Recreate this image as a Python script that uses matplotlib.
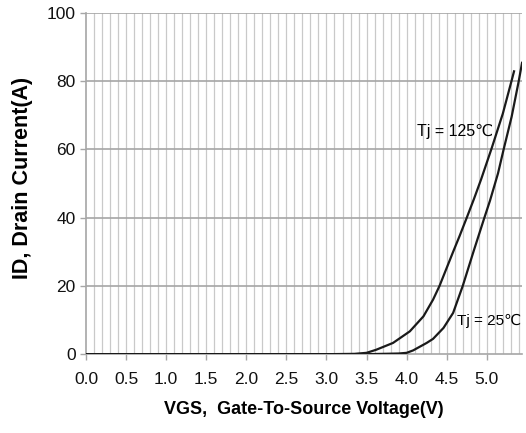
import matplotlib
matplotlib.use("Agg")
import matplotlib.pyplot as plt
import numpy as np

plt.rcParams['font.family'] = ['Liberation Sans', 'DejaVu Sans']

# transfer characteristics
vgs_125 = [0.0, 3.0, 3.35, 3.5, 3.62, 3.83, 4.04, 4.21, 4.33, 4.41, 4.58, 4.66, 4.75, 4.84, 4.93, 5.06, 5.20, 5.31, 5.34]
id_125 = [0.0, 0.0, 0.1, 0.4, 1.3, 3.3, 6.7, 11.1, 16.0, 20.0, 30.0, 34.6, 40.0, 45.5, 51.3, 60.3, 70.5, 80.2, 82.9]

vgs_25 = [0.0, 3.5, 3.9, 4.0, 4.08, 4.25, 4.33, 4.46, 4.58, 4.70, 4.84, 4.97, 5.04, 5.14, 5.21, 5.31, 5.40, 5.44]
id_25 = [0.0, 0.0, 0.2, 0.4, 1.1, 3.3, 4.5, 7.7, 12.1, 20.0, 30.5, 40.0, 45.0, 53.0, 60.0, 69.6, 80.2, 85.4]

xticks = [0.0, 0.5, 1.0, 1.5, 2.0, 2.5, 3.0, 3.5, 4.0, 4.5, 5.0]
yticks = [0, 20, 40, 60, 80, 100]

fig = plt.figure(figsize=(5.26, 4.33), dpi=100)
ax = fig.add_axes([0.1635, 0.182, 0.829, 0.788])

ax.set_xlim(0, 5.44)
ax.set_ylim(0, 100)

# fine vertical grid every 0.1 V
for v in np.arange(0.1, 5.44, 0.1):
    ax.axvline(v, color='#c9c9c9', lw=0.9, zorder=1)
for y in yticks[1:]:
    ax.axhline(y, color='#a6a6a6', lw=1.2, zorder=1)

ax.plot(vgs_125, id_125, color='#1a1a1a', lw=1.6, zorder=3)
ax.plot(vgs_25, id_25, color='#1a1a1a', lw=1.6, zorder=3)

ax.text(4.13, 65.2, 'Tj = 125\u2103', fontsize=11.5, va='center', ha='left', zorder=4)
ax.text(4.63, 9.6, 'Tj = 25\u2103', fontsize=11, va='center', ha='left', zorder=4)

ax.set_xticks(xticks)
ax.set_xticklabels([f"{t:.1f}" for t in xticks])
ax.set_yticks(yticks)
ax.tick_params(axis='both', colors='#a6a6a6', labelcolor='#111111', labelsize=12.5, length=4, width=1)
ax.tick_params(axis='x', pad=9)

for s in ['top', 'right']:
    ax.spines[s].set_visible(False)
ax.spines['left'].set_color('#a6a6a6')
ax.spines['bottom'].set_color('#a6a6a6')
ax.spines['left'].set_linewidth(1.2)
ax.spines['bottom'].set_linewidth(1.2)

ax.set_xlabel('VGS,  Gate-To-Source Voltage(V)', fontsize=13, fontweight='bold', labelpad=10)
ax.set_ylabel('ID, Drain Current(A)', fontsize=15.5, fontweight='bold')
ax.yaxis.set_label_coords(-0.122, 0.516)

fig.savefig('out.png', dpi=100)
